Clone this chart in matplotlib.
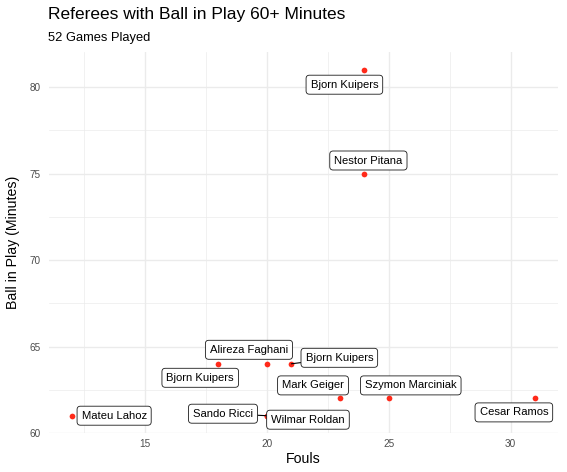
import matplotlib as mpl
import matplotlib.pyplot as plt

mpl.rcParams.update({"font.family": ["Liberation Sans", "DejaVu Sans"]})

referees = [
    "Bjorn Kuipers", "Nestor Pitana", "Alireza Faghani", "Bjorn Kuipers",
    "Bjorn Kuipers", "Mark Geiger", "Szymon Marciniak", "Cesar Ramos",
    "Mateu Lahoz", "Sando Ricci", "Wilmar Roldan",
]
fouls = [24, 24, 20, 18, 21, 23, 25, 31, 12, 20, 20]
ball_in_play = [81, 75, 64, 64, 64, 62, 62, 62, 61, 61, 61]

# label placement (pixel offsets from the point, like ggrepel put them)
offsets = [(-20, -15), (4, 13), (-18, 14), (-18, -14), (48, 6), (-27, 13),
           (22, 13), (-21, -14), (42, 0), (-44, 2), (41, -4)]
with_segment = [False, False, False, False, True, False, False, False,
                False, True, True]

fig = plt.figure(figsize=(5.67, 4.72), dpi=100)
ax = fig.add_axes([49 / 567, 39 / 472, 509 / 567, 380.6 / 472])

ax.set_xlim(11.05, 31.95)
ax.set_ylim(60, 82)
ax.set_xticks([15, 20, 25, 30])
ax.set_yticks([60, 65, 70, 75, 80])
ax.set_xticks([12.5, 17.5, 22.5, 27.5], minor=True)
ax.set_yticks([62.5, 67.5, 72.5, 77.5], minor=True)
ax.grid(True, which="major", color="#EBEBEB", lw=1.0)
ax.grid(True, which="minor", color="#EBEBEB", lw=0.5)
ax.set_axisbelow(True)
for s in ax.spines.values():
    s.set_visible(False)
ax.tick_params(which="both", length=0, labelsize=7.2, labelcolor="#4D4D4D")
ax.tick_params(axis="x", pad=4.5)
ax.tick_params(axis="y", pad=6)

ax.scatter(fouls, ball_in_play, s=17, color="#FF2A1A", zorder=2, linewidths=0)

for name, x, y, off, seg in zip(referees, fouls, ball_in_play, offsets, with_segment):
    ax.annotate(
        name,
        xy=(x, y),
        xytext=off,
        textcoords="offset pixels",
        ha="center",
        va="center",
        fontsize=8.1,
        color="black",
        zorder=3,
        bbox=dict(boxstyle="round,pad=0.4,rounding_size=0.3", fc="white",
                  ec="#1A1A1A", lw=0.6),
        arrowprops=dict(arrowstyle="-", color="black", lw=0.8, shrinkA=0,
                        shrinkB=0) if seg else None,
    )

ax.set_xlabel("Fouls", fontsize=10.2, va="center")
ax.set_ylabel("Ball in Play (Minutes)", fontsize=10.2, va="center")
ax.xaxis.set_label_coords(0.5, (433 - 459) / 380.6)
ax.yaxis.set_label_coords((13 - 49) / 509, 0.5)

fig.text(48 / 567, 1 - 15 / 472, "Referees with Ball in Play 60+ Minutes",
         fontsize=12.5, va="center", ha="left")
fig.text(48 / 567, 1 - 38 / 472, "52 Games Played", fontsize=9.3,
         va="center", ha="left")

fig.savefig("out.png", dpi=100, facecolor="white")
